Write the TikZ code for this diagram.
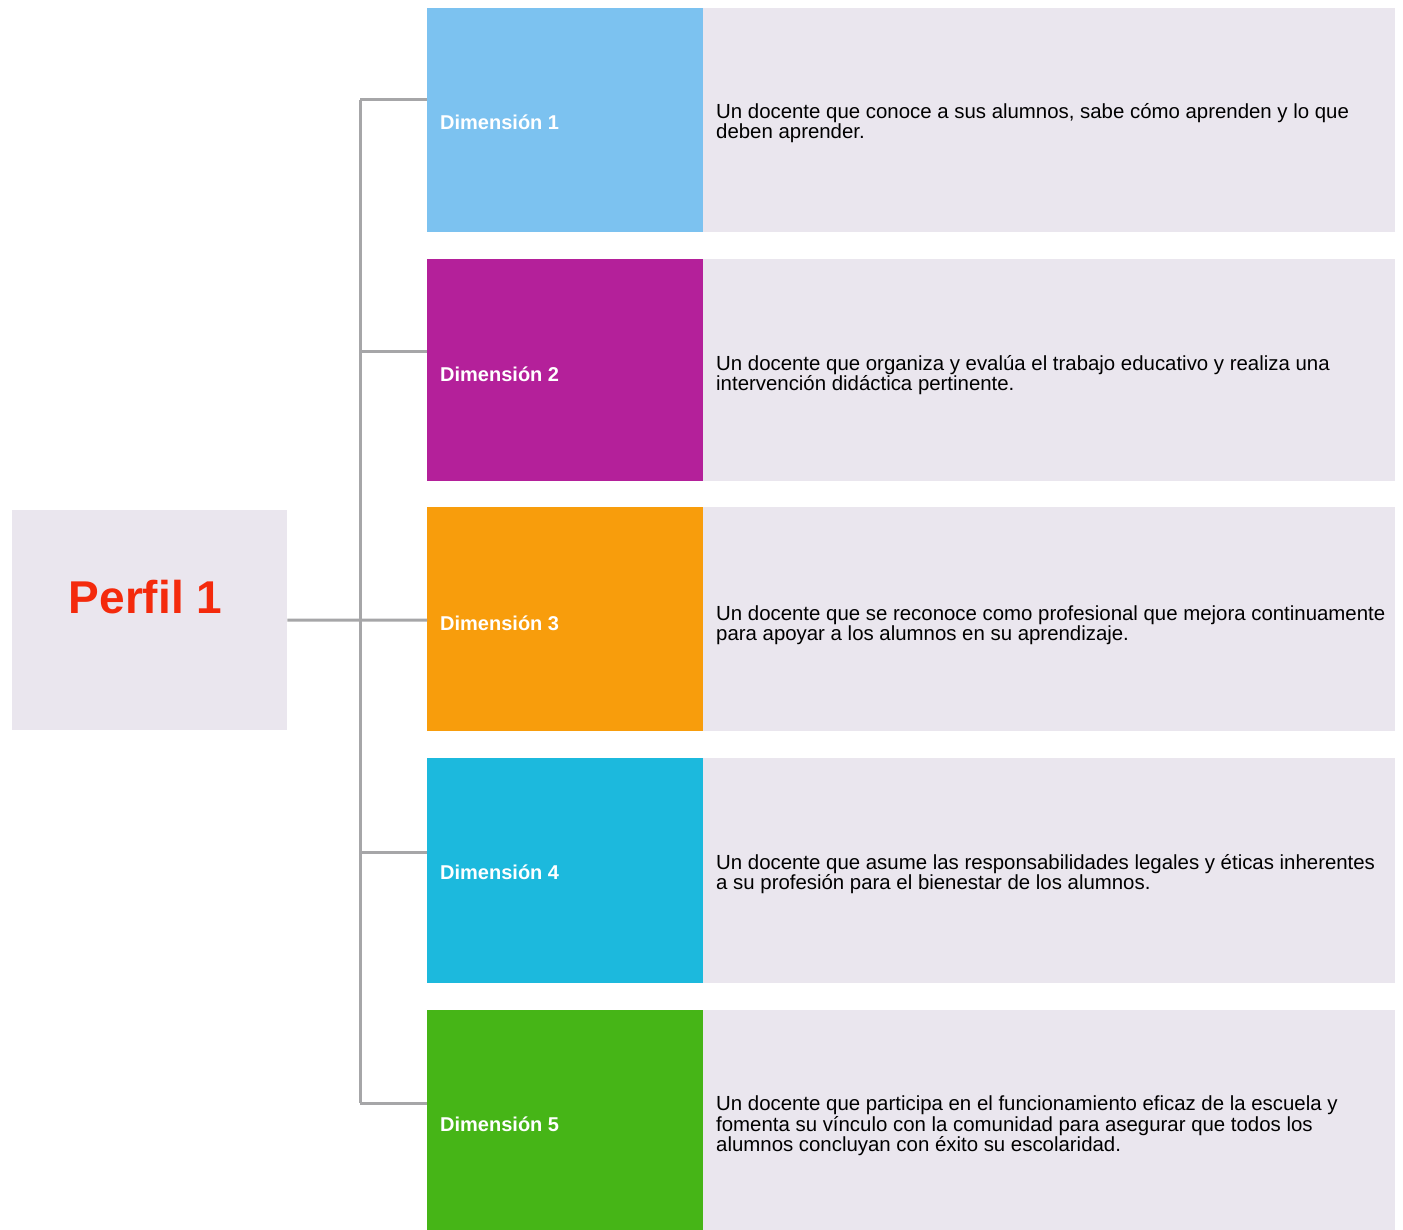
\documentclass[tikz,border=0pt]{standalone}
\usepackage{fontspec}
\setmainfont{Liberation Sans}
\definecolor{cline}{HTML}{A6A6A8}
\definecolor{cpale}{HTML}{EAE6EE}
\definecolor{cred}{HTML}{F42A0C}
\definecolor{cd1}{HTML}{7CC2F0}
\definecolor{cd2}{HTML}{B4209A}
\definecolor{cd3}{HTML}{F89D0C}
\definecolor{cd4}{HTML}{1CB9DD}
\definecolor{cd5}{HTML}{46B517}
\begin{document}
\begin{tikzpicture}[x=1pt,y=1pt,
  blockbox/.style={anchor=north west, inner sep=0pt, minimum width=276pt, draw=none},
  descbox/.style={anchor=north west, inner sep=0pt, minimum width=692pt, draw=none, fill=cpale},
  dimlabel/.style={anchor=west, inner sep=0pt, text=white, font=\bfseries\fontsize{20}{24}\selectfont},
  desctext/.style={anchor=west, inner sep=0pt, align=left, text=black, font=\fontsize{20.4}{20.5}\selectfont},
  link/.style={draw=cline, line width=3pt}
]
\useasboundingbox (0,0) rectangle (1403,-1230);
\fill[white] (0,0) rectangle (1403,-1230);

% Perfil box
\node[anchor=north west, inner sep=0pt, minimum width=275pt, minimum height=220pt, fill=cpale] (p) at (12,-510) {};
\node[anchor=base, inner sep=0pt, text=cred, font=\bfseries\fontsize{46}{52}\selectfont] (pt) at (145.5,-613) {Perfil 1};

% Dimension boxes
\node[blockbox, minimum height=224pt, fill=cd1] (d1) at (427,-8) {};
\node[blockbox, minimum height=222pt, fill=cd2] (d2) at (427,-259) {};
\node[blockbox, minimum height=224pt, fill=cd3] (d3) at (427,-507) {};
\node[blockbox, minimum height=225pt, fill=cd4] (d4) at (427,-758) {};
\node[blockbox, minimum height=220pt, fill=cd5] (d5) at (427,-1010) {};

% Description boxes
\node[descbox, minimum height=224pt] (t1) at (703,-8) {};
\node[descbox, minimum height=222pt] (t2) at (703,-259) {};
\node[descbox, minimum height=224pt] (t3) at (703,-507) {};
\node[descbox, minimum height=225pt] (t4) at (703,-758) {};
\node[descbox, minimum height=220pt] (t5) at (703,-1010) {};

% Labels
\node[dimlabel] (l1) at (440,-122) {Dimensión 1};
\node[dimlabel] (l2) at (440,-374) {Dimensión 2};
\node[dimlabel] (l3) at (440,-623) {Dimensión 3};
\node[dimlabel] (l4) at (440,-872) {Dimensión 4};
\node[dimlabel] (l5) at (440,-1124) {Dimensión 5};

% Descriptions
\node[desctext] (x1) at (716,-123) {Un docente que conoce a sus alumnos, sabe cómo aprenden y lo que\\deben aprender.};
\node[desctext] (x2) at (716,-375) {Un docente que organiza y evalúa el trabajo educativo y realiza una\\intervención didáctica pertinente.};
\node[desctext] (x3) at (716,-625) {Un docente que se reconoce como profesional que mejora continuamente\\para apoyar a los alumnos en su aprendizaje.};
\node[desctext] (x4) at (716,-874) {Un docente que asume las responsabilidades legales y éticas inherentes\\a su profesión para el bienestar de los alumnos.};
\node[desctext] (x5) at (716,-1126) {Un docente que participa en el funcionamiento eficaz de la escuela y\\fomenta su vínculo con la comunidad para asegurar que todos los\\alumnos concluyan con éxito su escolaridad.};

% Connectors
\coordinate (j1) at (360,-100);
\coordinate (j2) at (360,-352);
\coordinate (j3) at (360,-620);
\coordinate (j4) at (360,-852);
\coordinate (j5) at (360,-1103);
\draw[link] (j1) -- (j5);
\draw[link] (p.east) -- (j3) -- (j3 -| d3.west);
\draw[link] (j1) -- (j1 -| d1.west);
\draw[link] (j2) -- (j2 -| d2.west);
\draw[link] (j4) -- (j4 -| d4.west);
\draw[link] (j5) -- (j5 -| d5.west);
\end{tikzpicture}
\end{document}
